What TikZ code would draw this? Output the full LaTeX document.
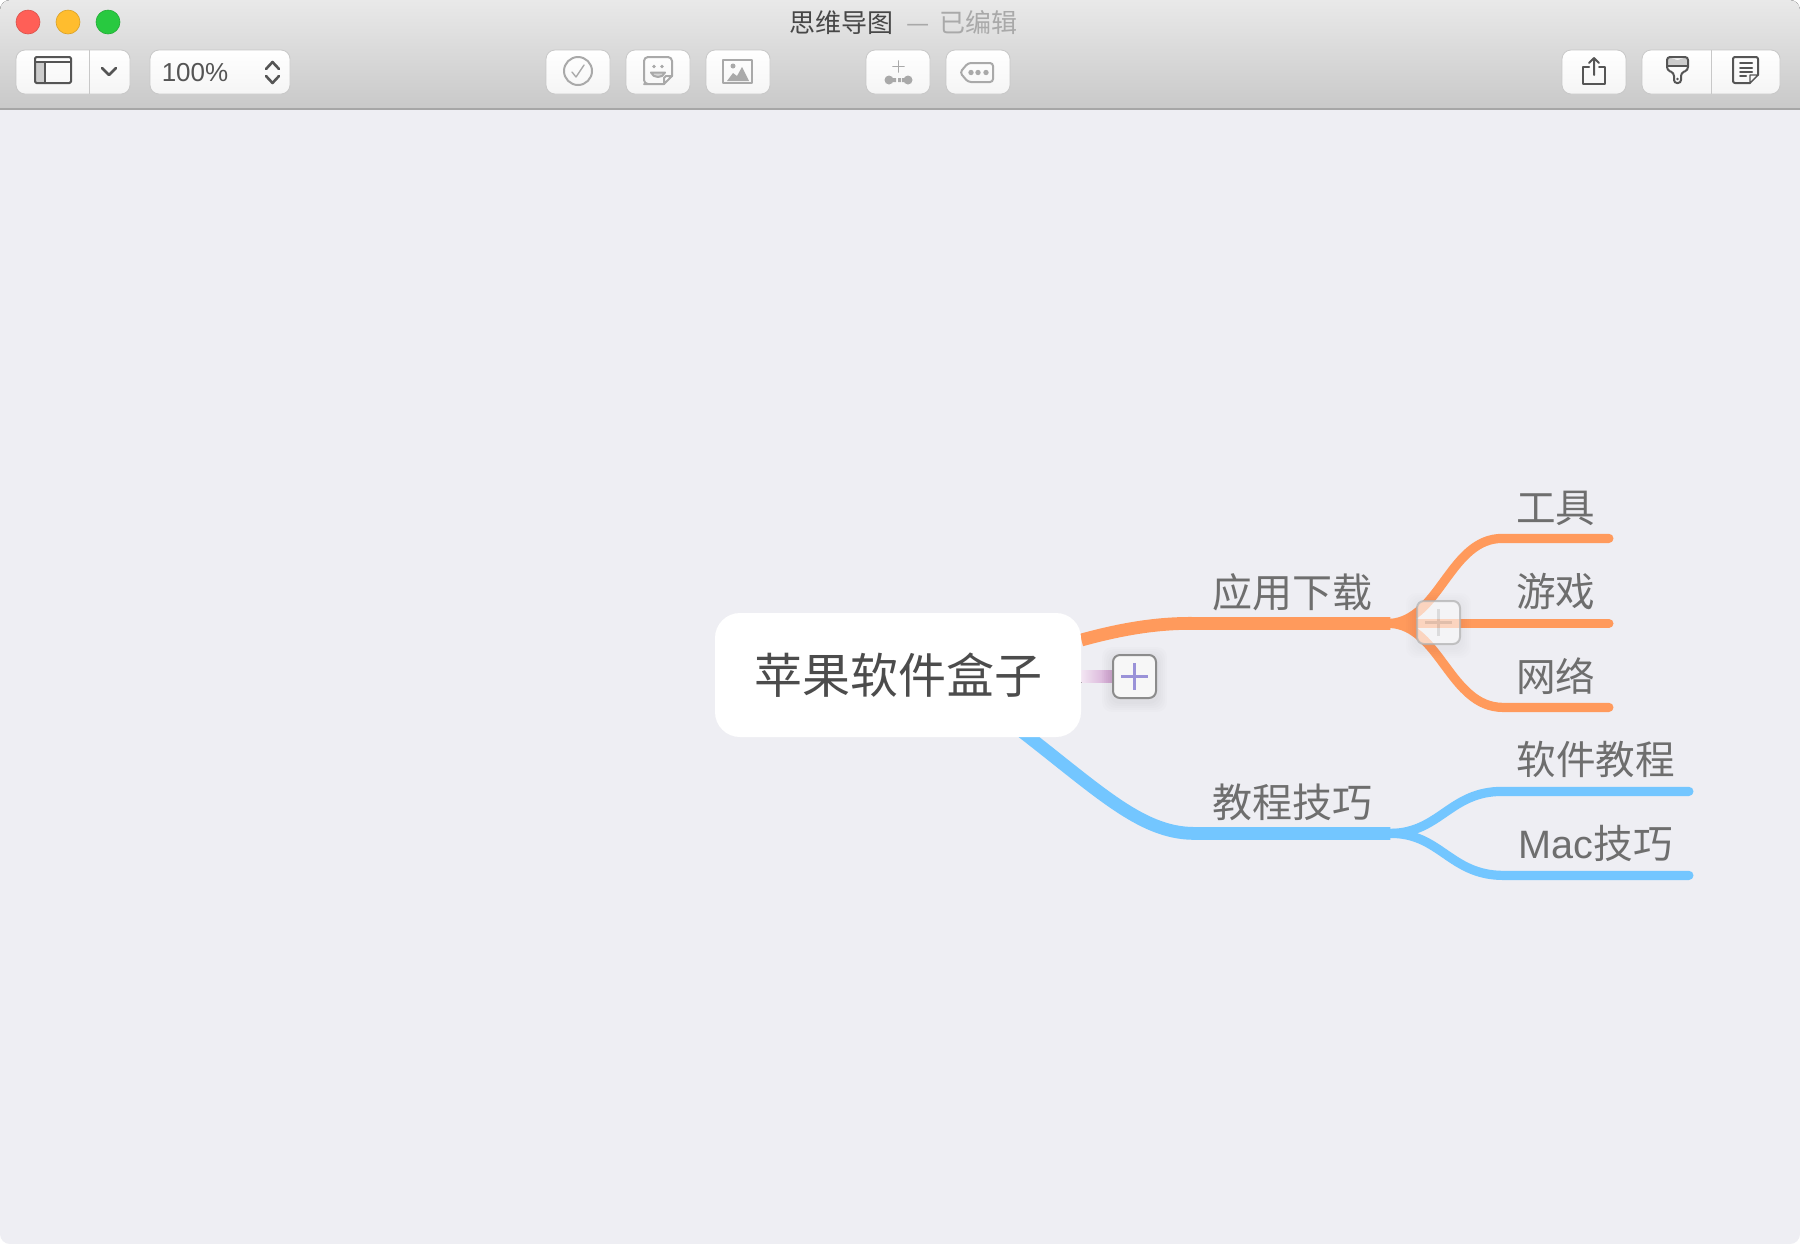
\documentclass[tikz,border=0pt]{standalone}
\usepackage{fontspec}
\setmainfont{Noto Sans CJK SC}
\newfontfamily\latinfont{Liberation Sans}
\usetikzlibrary{backgrounds}
\pgfdeclarelayer{links}
\pgfsetlayers{background,links,main}
\definecolor{canvasbg}{HTML}{EEEEF3}
\definecolor{barhigh}{HTML}{E9E9E9}
\definecolor{barlow}{HTML}{C9C9C9}
\definecolor{barline}{HTML}{A6A6A6}
\definecolor{btnedge}{HTML}{C8C8C8}
\definecolor{iconon}{HTML}{555555}
\definecolor{iconoff}{HTML}{A9A9A9}
\definecolor{orangelink}{HTML}{FF9A5C}
\definecolor{bluelink}{HTML}{73C6FF}
\definecolor{plusblue}{HTML}{9A92D8}
\definecolor{lampred}{HTML}{FF5F57}
\definecolor{lampamber}{HTML}{FFBD2E}
\definecolor{lampgreen}{HTML}{28C940}
\tikzset{
	toolbtn/.style={draw=btnedge,line width=0.4pt,rounded corners=4.5pt,top color=white,bottom color=white!96!black,minimum height=22pt,inner sep=0pt},
	rootbox/.style={fill=white,rounded corners=12.5pt,minimum width=183pt,minimum height=62pt,inner sep=0pt,text=black!70,font=\fontsize{24}{24}\selectfont},
	midtopic/.style={minimum width=98pt,minimum height=31pt,inner sep=0pt,text=black!57,font=\fontsize{20}{20}\selectfont},
	leaftopic/.style={minimum height=30pt,inner sep=0pt,text=black!57,font=\fontsize{19.8}{20}\selectfont},
	mainlink/.style={line width=6.4pt},
	sublink/.style={line width=4.6pt},
	addbtn/.style={draw=black!45,line width=1pt,rounded corners=3.5pt,fill=black!3,minimum width=21.5pt,minimum height=21.5pt,inner sep=0pt},
	icon/.style={line width=1pt,line join=round,line cap=round}
}
\begin{document}
\begin{tikzpicture}[x=0.5pt,y=-0.5pt]
	\useasboundingbox (0,0) rectangle (1800,1244);
	\begin{pgfonlayer}{background}
		\fill[white] (0,0) rectangle (1800,1244);
		\begin{scope}
			\clip[rounded corners=5pt] (0,0) rectangle (1800,1244);
			\fill[canvasbg] (0,0) rectangle (1800,1244);
			\fill[top color=barhigh,bottom color=barlow] (0,0) rectangle (1800,108);
			\draw[barline,line width=1pt] (0,109) -- (1800,109);
		\end{scope}
	\end{pgfonlayer}
	\filldraw[fill=lampred,draw=lampred!85!black,line width=0.3pt] (28,22) circle (12);
	\filldraw[fill=lampamber,draw=lampamber!85!black,line width=0.3pt] (68,22) circle (12);
	\filldraw[fill=lampgreen,draw=lampgreen!85!black,line width=0.3pt] (108,22) circle (12);
	\node (title) at (841,23) {\fontsize{13}{13}\selectfont\color{black!72}思维导图};
	\node (status) at (962,23) {\fontsize{13}{13}\selectfont\color{iconoff}—\hspace{5pt}已编辑};

	\node[toolbtn,minimum width=57pt] (layoutbtn) at (73,72) {};
	\draw[btnedge,line width=0.5pt] (89,50) -- (89,94);
	\node[toolbtn,minimum width=70pt] (zoombtn) at (220,72) {};
	\node[toolbtn,minimum width=32pt] (taskbtn) at (578,72) {};
	\node[toolbtn,minimum width=32pt] (stickerbtn) at (658,72) {};
	\node[toolbtn,minimum width=32pt] (imagebtn) at (738,72) {};
	\node[toolbtn,minimum width=32pt] (topicbtn) at (898,72) {};
	\node[toolbtn,minimum width=32pt] (tagbtn) at (978,72) {};
	\node[toolbtn,minimum width=32pt] (sharebtn) at (1594,72) {};
	\node[toolbtn,minimum width=69pt] (stylebtn) at (1711,72) {};
	\draw[btnedge,line width=0.5pt] (1711,50) -- (1711,94);

	\fill[black!20] (35,62) rectangle (45,83);
	\draw[icon,iconon,rounded corners=0.7pt] (35,57) rectangle (71,83);
	\draw[icon,iconon] (35,62) -- (71,62) (45,62) -- (45,83);
	\draw[icon,iconon,line width=1.3pt] (102,68) -- (109,75) -- (116,68);
	\node[text=iconon,font=\latinfont\fontsize{13}{13}\selectfont] (zoomtext) at (195,73) {100\%};
	\draw[icon,iconon,line width=1.3pt] (266,69) -- (272.5,62) -- (279,69) (266,76) -- (272.5,83) -- (279,76);

	\draw[icon,iconoff] (578,71) circle (14);
	\draw[icon,iconoff,line width=0.7pt] (572,72) -- (576,77) -- (584,65);
	\draw[icon,iconoff,rounded corners=2pt] (664,84) -- (648,84) -- (644,84) -- (644,57) -- (672,57) -- (672,76);
	\draw[icon,iconoff,fill=white] (672,76) -- (664,84) -- (664,78) -- (666,76) -- cycle;
	\fill[iconoff] (654,66.5) circle (1.8) (662,66.5) circle (1.8);
	\draw[icon,iconoff,fill=iconoff!50] (651,72.5) .. controls (653,78.5) and (663,78.5) .. (665,72.5) -- cycle;
	\draw[icon,iconoff] (723,60) rectangle (752,83);
	\fill[iconoff] (733,66) circle (2.5);
	\fill[iconoff] (727,81) -- (733,73) -- (737,76) -- (742,67) -- (749,81) -- cycle;
	\draw[icon,iconoff,line width=0.8pt] (893,66.5) -- (904,66.5) (898.5,61) -- (898.5,72);
	\fill[iconoff] (889,80) circle (4.5) (908,80) circle (4.5);
	\fill[iconoff] (892,78) rectangle (896,82) (898,78) rectangle (901,82) (902,78) rectangle (905,82);
	\draw[icon,iconoff,rounded corners=1.5pt] (968,63) -- (993,63) -- (993,82) -- (968,82) -- (960,72.5) -- cycle;
	\fill[iconoff] (971,72.5) circle (2.7) (978,72.5) circle (2.7) (986,72.5) circle (2.7);

	\draw[icon,iconon] (1589,67) -- (1583,67) -- (1583,84) -- (1605,84) -- (1605,67) -- (1599,67);
	\draw[icon,iconon] (1594,75) -- (1594,58) (1589,63) -- (1594,58) -- (1599,63);
	\fill[black!20] (1667,57) -- (1677.5,60) -- (1688,57) -- (1688,66) -- (1667,66) -- cycle;
	\draw[icon,iconon,rounded corners=1.5pt] (1667,57) -- (1688,57) -- (1688,70) -- (1681,73) -- (1681,83) -- (1674,83) -- (1674,73) -- (1667,70) -- cycle;
	\draw[icon,iconon,line width=0.7pt] (1667,66) -- (1688,66);
	\fill[iconon] (1677.5,79) circle (1.3);
	\draw[icon,iconon,rounded corners=1pt] (1750,83) -- (1733,83) -- (1733,57) -- (1758,57) -- (1758,75);
	\draw[icon,iconon,line width=0.7pt] (1758,75) -- (1750,83) -- (1750,75) -- cycle;
	\draw[icon,iconon] (1740,63) -- (1752,63) (1740,67.5) -- (1752,67.5) (1740,72) -- (1752,72) (1740,76) -- (1746,76);

	\node[rootbox] (root) at (898,675) {苹果软件盒子};
	\node[midtopic] (apps) at (1292,592) {应用下载};
	\node[midtopic] (tips) at (1292,802) {教程技巧};
	\node[leaftopic,minimum width=52.75pt] (tools) at (1555.75,508) {工具};
	\node[leaftopic,minimum width=52.75pt,minimum height=31pt] (games) at (1555.75,592) {游戏};
	\node[leaftopic,minimum width=52.75pt,minimum height=31pt] (network) at (1555.75,676) {网络};
	\node[leaftopic,minimum width=92.75pt,minimum height=32pt] (guides) at (1595.75,759) {软件教程};
	\node[leaftopic,minimum width=92.75pt,minimum height=32pt] (mactips) at (1595.75,843) {{\latinfont Mac}技巧};
	\node[addbtn] (addroot) at (1134.5,676.5) {};
	\node[addbtn,draw=black!30,fill=white,fill opacity=0.62,draw opacity=0.75] (addapps) at (1438.5,622.5) {};
	\draw[plusblue,line width=1.8pt] ([xshift=-6.7pt]addroot.center) -- ([xshift=6.7pt]addroot.center) ([yshift=-6.7pt]addroot.center) -- ([yshift=6.7pt]addroot.center);
	\draw[black,opacity=0.1,line width=1.8pt] ([xshift=-6.7pt]addapps.center) -- ([xshift=6.7pt]addapps.center) ([yshift=-6.7pt]addapps.center) -- ([yshift=6.7pt]addapps.center);

	\begin{pgfonlayer}{links}
		\draw[orangelink,mainlink] ([yshift=17.5pt]root.east) .. controls (1125,628) and (1160,623) .. (apps.south west) -- (apps.south east);
		\draw[bluelink,mainlink] ([xshift=58pt,yshift=6pt]root.south) .. controls (1098,790) and (1140,833) .. (tips.south west) -- (tips.south east);
		\draw[orangelink,sublink,line cap=round] (apps.south east) .. controls (1440,620) and (1450,538) .. (tools.south west) -- (tools.south east);
		\draw[orangelink,sublink,line cap=round] (apps.south east) -- (games.south east);
		\draw[orangelink,sublink,line cap=round] (apps.south east) .. controls (1440,626) and (1450,707) .. (network.south west) -- (network.south east);
		\draw[bluelink,sublink,line cap=round] (tips.south east) .. controls (1440,833) and (1450,791) .. (guides.south west) -- (guides.south east);
		\draw[bluelink,sublink,line cap=round] (tips.south east) .. controls (1440,833) and (1450,875) .. (mactips.south west) -- (mactips.south east);
		\fill[left color=violet!10!white,right color=violet!35!white] ([yshift=2.9pt]addroot.west -| root.east) rectangle ([yshift=-3.1pt]addroot.west);
		\foreach \grow in {1,2,3,4,5}
			\fill[black,opacity=0.01,rounded corners=5pt] ([xshift=-\grow pt,yshift=-\grow pt-1.5pt]addroot.south west) rectangle ([xshift=\grow pt,yshift=\grow pt-1.5pt]addroot.north east);
		\foreach \grow in {1,2,3,4,5}
			\fill[black,opacity=0.007,rounded corners=5pt] ([xshift=-\grow pt,yshift=-\grow pt-1.5pt]addapps.south west) rectangle ([xshift=\grow pt,yshift=\grow pt-1.5pt]addapps.north east);
	\end{pgfonlayer}
\end{tikzpicture}
\end{document}
